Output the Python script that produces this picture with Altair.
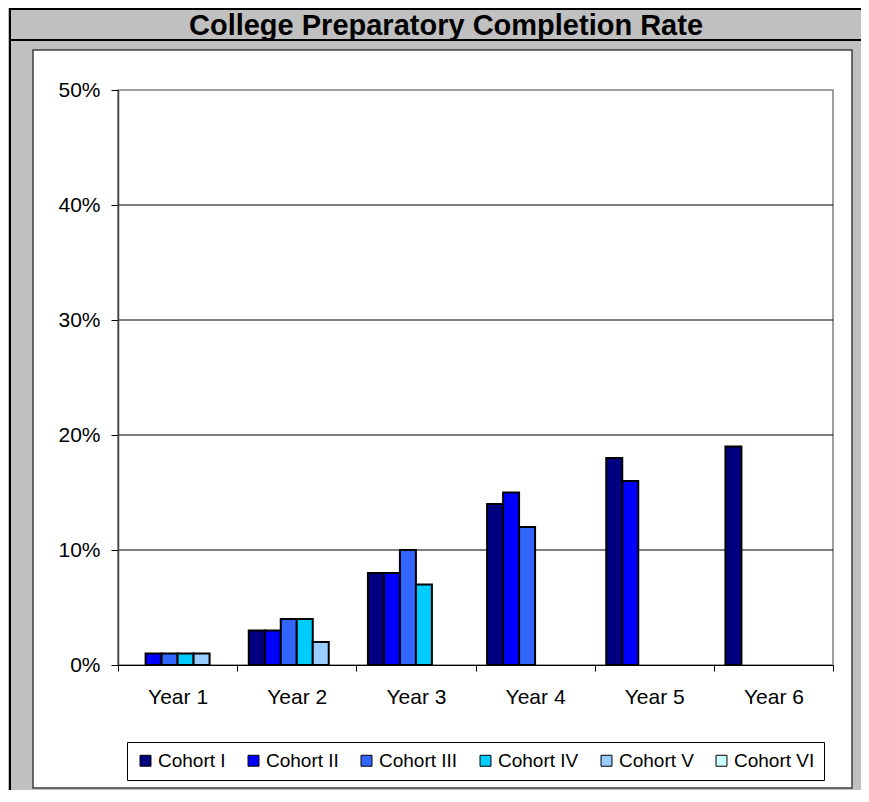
import altair as alt
import pandas as pd

years = ["Year 1", "Year 2", "Year 3", "Year 4", "Year 5", "Year 6"]
cohorts = ["Cohort I", "Cohort II", "Cohort III", "Cohort IV", "Cohort V", "Cohort VI"]
colors = ["#000080", "#0000FF", "#3366FF", "#00CCFF", "#99CCFF", "#CCFFFF"]

cohort_I = [None, 3, 8, 14, 18, 19]
cohort_II = [1, 3, 8, 15, 16, None]
cohort_III = [1, 4, 10, 12, None, None]
cohort_IV = [1, 4, 7, None, None, None]
cohort_V = [1, 2, None, None, None, None]
cohort_VI = [None, None, None, None, None, None]

y_ticks = [0, 10, 20, 30, 40, 50]
grid_ticks = [10, 20, 30, 40]
title_text = "College Preparatory Completion Rate"

series = [cohort_I, cohort_II, cohort_III, cohort_IV, cohort_V, cohort_VI]
rows = []
for c, vals in zip(cohorts, series):
    for yr, v in zip(years, vals):
        if v is not None:
            rows.append({"year": yr, "cohort": c, "value": v})
df = pd.DataFrame(rows)

FONT = "Liberation Sans"
W, H = 715, 575
one = alt.InlineData(values=[{"d": 0}])

y_scale = alt.Scale(domain=[0, 50], nice=False)
y_axis = alt.Axis(title=None, values=y_ticks, labelExpr="datum.value + '%'",
                  grid=False, tickSize=7, labelPadding=11, domainColor="#404040",
                  domainWidth=1.5, tickColor="black", labelFont=FONT,
                  labelFontSize=21, labelColor="black", zindex=1)

panel = alt.Chart(one).mark_rect(fill="white", stroke="#404040", strokeWidth=1.5).encode(
    x=alt.value(-85), x2=alt.value(734), y=alt.value(-40), y2=alt.value(698))

left_border = alt.Chart(one).mark_rule(color="black", strokeWidth=2).encode(
    x=alt.value(-108), y=alt.value(-82), y2=alt.value(700))
top_border = alt.Chart(one).mark_rule(color="black", strokeWidth=2).encode(
    x=alt.value(-109), x2=alt.value(743), y=alt.value(-81))
title_sep = alt.Chart(one).mark_rule(color="black", strokeWidth=2).encode(
    x=alt.value(-109), x2=alt.value(743), y=alt.value(-50))

title = alt.Chart(one).mark_text(font=FONT, fontSize=29, fontWeight="bold", color="black",
                                 align="center", baseline="alphabetic").encode(
    x=alt.value(328), y=alt.value(-55), text=alt.value(title_text))

plot_border = alt.Chart(one).mark_rect(filled=False, stroke="#808080", strokeWidth=1.5).encode(
    x=alt.value(0), x2=alt.value("width"), y=alt.value(0), y2=alt.value("height"))

grid = alt.Chart(pd.DataFrame({"value": grid_ticks})).mark_rule(color="black", strokeWidth=1.2).encode(
    y=alt.Y("value:Q", scale=y_scale, axis=y_axis))

bars = alt.Chart(df).mark_bar(stroke="black", strokeWidth=2).encode(
    x=alt.X("year:N", sort=years,
            scale=alt.Scale(domain=years, paddingInner=0, paddingOuter=0),
            axis=alt.Axis(title=None, labelAngle=0, tickBand="extent", tickSize=6,
                          labelPadding=15, domainColor="black", tickColor="black",
                          labelFont=FONT, labelFontSize=21, labelColor="black",
                          grid=False, zindex=1)),
    xOffset=alt.XOffset("cohort:N", scale=alt.Scale(domain=cohorts, paddingInner=0, paddingOuter=0.725)),
    y=alt.Y("value:Q", scale=y_scale, axis=y_axis),
    color=alt.Color("cohort:N", scale=alt.Scale(domain=cohorts, range=colors),
                    legend=alt.Legend(orient="none", legendX=9, legendY=652,
                                      direction="horizontal", title=None,
                                      symbolType="square", symbolSize=120,
                                      symbolStrokeColor="black", symbolStrokeWidth=1,
                                      labelFont=FONT, labelFontSize=19, labelColor="black",
                                      labelOffset=3, columnPadding=18, padding=9,
                                      strokeColor="black", fillColor="white", zindex=1)),
)

chart = alt.layer(panel, left_border, top_border, title_sep, title, plot_border, grid, bars).properties(
    width=W, height=H,
    autosize=alt.AutoSizeParams(type="none"),
    padding={"left": 110, "top": 82, "right": 28, "bottom": 125},
    background="#C0C0C0",
).configure_view(strokeWidth=0)

chart.save("out.html", embed_options={"renderer": "svg", "actions": False})
